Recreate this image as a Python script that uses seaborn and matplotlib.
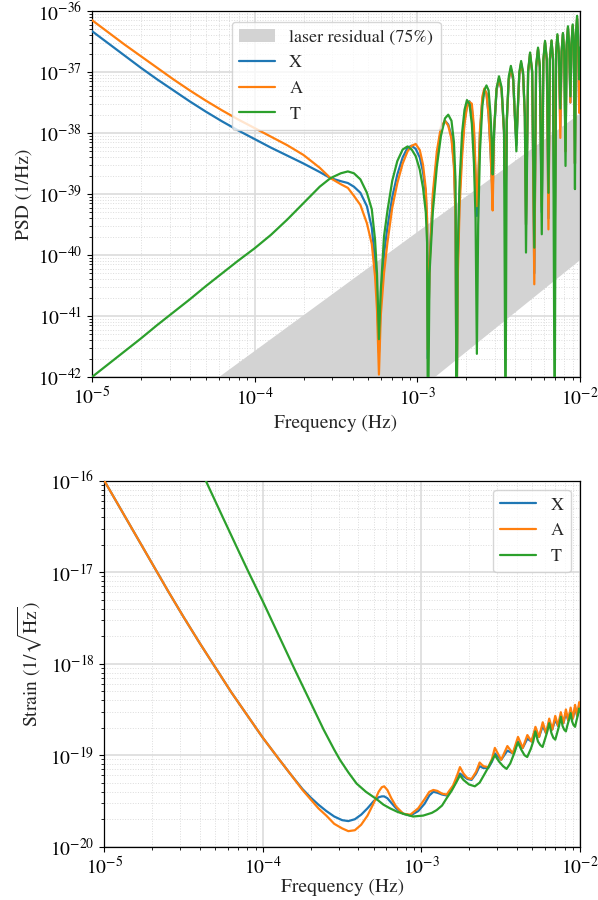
import numpy as np
import pandas as pd
import matplotlib
matplotlib.use("Agg")
import matplotlib.pyplot as plt
import seaborn as sns
from matplotlib.ticker import LogLocator, NullFormatter
from matplotlib.patches import Patch
from matplotlib.lines import Line2D

# ---------------- data (log10 units) ----------------
# Top panel: PSD (1/Hz) of X, A, T versus frequency
logf_top = [
    -5.0, -4.9, -4.8, -4.7, -4.6, -4.5, -4.4, -4.3, -4.2, -4.1, -4.0, -3.9, -3.8, -3.7, -3.6, -3.534,
    -3.47, -3.427, -3.39, -3.35, -3.31, -3.28, -3.26, -3.248, -3.236,
    -3.225, -3.205, -3.184, -3.154, -3.123, -3.09, -3.06, -3.035, -3.01, -2.985, -2.965, -2.948, -2.94, -2.935,
    -2.925, -2.905, -2.88, -2.855, -2.83, -2.81, -2.79, -2.775, -2.765, -2.759,
    -2.752, -2.74, -2.725, -2.71, -2.695, -2.68, -2.665, -2.652, -2.642, -2.634,
    -2.626, -2.615, -2.600, -2.588, -2.575, -2.562, -2.550, -2.543, -2.537,
    -2.528, -2.513, -2.498, -2.482, -2.467, -2.458,
    -2.450, -2.438, -2.425, -2.411, -2.399, -2.391,
    -2.384, -2.373, -2.362, -2.350, -2.339, -2.332,
    -2.319, -2.307, -2.294, -2.281,
    -2.270, -2.258, -2.247, -2.235,
    -2.225, -2.215, -2.204, -2.194,
    -2.185, -2.175, -2.166, -2.156,
    -2.147, -2.139, -2.130, -2.121,
    -2.113, -2.105, -2.097, -2.089,
    -2.082, -2.074, -2.067, -2.059,
    -2.052, -2.045, -2.038, -2.031,
    -2.025, -2.018, -2.012, -2.005, -2.000,
]
log_psd_X = [
    -36.33, -36.53, -36.73, -36.93, -37.12, -37.30, -37.48, -37.65, -37.81, -37.96, -38.10, -38.24, -38.37, -38.50, -38.64, -38.74,
    -38.79, -38.82, -38.88, -38.98, -39.20, -39.55, -40.10, -40.60, -41.60,
    -40.80, -39.99, -39.55, -39.05, -38.68, -38.40, -38.24, -38.21, -38.26, -38.40, -38.64, -39.00, -39.50, -41.70,
    -40.10, -39.10, -38.40, -37.95, -37.80, -37.86, -38.05, -38.50, -39.30, -43.00,
    -40.20, -39.00, -38.25, -37.80, -37.55, -37.48, -37.60, -38.00, -38.80, -39.36,
    -38.90, -38.00, -37.45, -37.30, -37.35, -37.70, -38.30, -38.70, -39.00,
    -38.00, -37.30, -37.12, -37.30, -38.00, -39.30,
    -37.82, -37.13, -36.95, -37.13, -37.82, -38.20,
    -37.73, -37.04, -36.86, -37.04, -37.73, -39.50,
    -37.01, -36.71, -37.01, -40.30,
    -36.93, -36.63, -36.93, -39.30,
    -36.82, -36.52, -36.82, -39.40,
    -36.80, -36.50, -36.80, -40.00,
    -36.71, -36.41, -36.71, -37.90,
    -36.68, -36.38, -36.68, -38.30,
    -36.58, -36.28, -36.58, -37.50,
    -36.55, -36.25, -36.55, -38.50,
    -36.43, -36.13, -36.43, -37.60, -36.80,
]
log_psd_A = [
    -36.15, -36.35, -36.55, -36.74, -36.93, -37.12, -37.30, -37.47, -37.63, -37.78, -37.92, -38.06, -38.20, -38.36, -38.57, -38.74,
    -38.84, -38.90, -39.03, -39.18, -39.48, -39.82, -40.35, -40.90, -41.96,
    -41.00, -40.30, -39.80, -39.22, -38.82, -38.50, -38.30, -38.21, -38.18, -38.28, -38.52, -38.92, -39.40, -41.55,
    -40.20, -39.00, -38.30, -37.90, -37.80, -37.88, -38.10, -38.55, -39.40, -43.00,
    -40.40, -39.20, -38.40, -37.85, -37.58, -37.49, -37.52, -37.90, -38.60, -39.20,
    -38.80, -37.95, -37.40, -37.27, -37.35, -37.70, -38.30, -38.80, -39.27,
    -37.95, -37.28, -37.11, -37.30, -38.00, -39.20,
    -37.81, -37.12, -36.94, -37.12, -37.81, -38.10,
    -37.72, -37.03, -36.85, -37.03, -37.72, -39.50,
    -37.00, -36.70, -37.00, -40.48,
    -36.92, -36.62, -36.92, -39.20,
    -36.81, -36.51, -36.81, -39.58,
    -36.79, -36.49, -36.79, -40.00,
    -36.70, -36.40, -36.70, -38.08,
    -36.67, -36.37, -36.67, -38.30,
    -36.57, -36.27, -36.57, -37.50,
    -36.54, -36.24, -36.54, -38.50,
    -36.42, -36.12, -36.42, -37.67, -36.80,
]
log_psd_T = [
    -42.00, -41.79, -41.58, -41.37, -41.15, -40.94, -40.73, -40.51, -40.30, -40.09, -39.89, -39.67, -39.42, -39.15, -38.88, -38.74,
    -38.66, -38.63, -38.66, -38.76, -38.98, -39.25, -39.75, -40.30, -41.38,
    -40.60, -39.70, -39.28, -38.78, -38.46, -38.27, -38.22, -38.27, -38.38, -38.60, -38.90, -39.30, -39.80, -43.00,
    -40.30, -39.30, -38.55, -38.05, -37.76, -37.70, -37.80, -38.15, -38.80, -43.00,
    -40.00, -38.80, -38.00, -37.62, -37.46, -37.52, -37.85, -38.50, -39.40, -41.62,
    -39.50, -38.30, -37.55, -37.30, -37.22, -37.30, -37.70, -38.10, -38.68,
    -37.95, -37.27, -37.07, -37.25, -37.95, -43.00,
    -37.77, -37.08, -36.90, -37.08, -37.77, -38.30,
    -37.69, -37.00, -36.82, -37.00, -37.69, -39.96,
    -36.98, -36.68, -36.98, -39.88,
    -36.90, -36.60, -36.90, -39.66,
    -36.79, -36.49, -36.79, -38.98,
    -36.78, -36.48, -36.78, -43.00,
    -36.68, -36.38, -36.68, -37.60,
    -36.66, -36.36, -36.66, -38.54,
    -36.55, -36.25, -36.55, -37.40,
    -36.52, -36.22, -36.52, -38.92,
    -36.38, -36.08, -36.38, -37.12, -36.60,
]
# laser residual band (75%)
band_logf = [-5.0, -4.0, -3.0, -2.0]
band_log_lo = [-46.52, -44.37, -42.22, -40.07]
band_log_hi = [-43.51, -41.56, -39.61, -37.67]

# Bottom panel: strain sensitivity
logf_bot_XA = [
    -5.0, -4.9, -4.8, -4.7, -4.6, -4.5, -4.4, -4.3, -4.2, -4.1, -4.0, -3.9, -3.829, -3.75, -3.7, -3.65, -3.6, -3.55, -3.5, -3.461,
    -3.42, -3.38, -3.34, -3.30, -3.27, -3.25, -3.235, -3.215, -3.19, -3.16, -3.115, -3.07, -3.02, -2.98,
    -2.95, -2.925, -2.90, -2.87, -2.841, -2.80, -2.775, -2.757, -2.735, -2.71, -2.684, -2.655, -2.633,
    -2.61, -2.578, -2.555, -2.537, -2.497, -2.458, -2.424, -2.391, -2.361, -2.332, -2.306, -2.281, -2.258,
    -2.235, -2.214, -2.194, -2.175, -2.156, -2.1385, -2.121, -2.105, -2.089, -2.074, -2.059, -2.045, -2.031,
    -2.018, -2.005, -2.0,
]
log_strain_X = [
    -16.0, -16.30, -16.60, -16.90, -17.20, -17.49, -17.77, -18.04, -18.31, -18.56, -18.81, -19.04, -19.20, -19.37, -19.46, -19.54, -19.61, -19.67, -19.71, -19.72,
    -19.70, -19.65, -19.58, -19.50, -19.46, -19.45, -19.45, -19.47, -19.52, -19.58, -19.64, -19.66, -19.61, -19.53,
    -19.44, -19.40, -19.41, -19.43, -19.44, -19.35, -19.26, -19.20, -19.23, -19.26, -19.27, -19.20, -19.12,
    -19.14, -19.14, -19.07, -18.98, -19.05, -18.95, -18.98, -18.85, -18.92, -18.82, -18.85, -18.73, -18.80,
    -18.68, -18.76, -18.64, -18.72, -18.61, -18.68, -18.57, -18.65, -18.54, -18.62, -18.51, -18.60, -18.48,
    -18.57, -18.45, -18.50,
]
log_strain_A = [
    -16.0, -16.30, -16.60, -16.90, -17.20, -17.49, -17.77, -18.04, -18.31, -18.56, -18.81, -19.04, -19.20, -19.38, -19.48, -19.58, -19.66, -19.75, -19.80, -19.83,
    -19.82, -19.76, -19.66, -19.52, -19.40, -19.35, -19.34, -19.38, -19.47, -19.56, -19.64, -19.65, -19.58, -19.48,
    -19.40, -19.38, -19.39, -19.42, -19.43, -19.33, -19.22, -19.13, -19.20, -19.25, -19.26, -19.18, -19.08,
    -19.12, -19.13, -19.04, -18.92, -19.05, -18.90, -18.98, -18.80, -18.92, -18.78, -18.85, -18.69, -18.80,
    -18.64, -18.76, -18.60, -18.72, -18.57, -18.68, -18.53, -18.65, -18.50, -18.62, -18.48, -18.60, -18.45,
    -18.57, -18.42, -18.50,
]
logf_bot_T = [
    -4.45, -4.36, -4.25, -4.15, -4.09, -4.0, -3.9, -3.8, -3.7, -3.617, -3.55, -3.514, -3.46, -3.409, -3.35,
    -3.283, -3.24, -3.199, -3.15, -3.115, -3.052, -2.989, -2.934, -2.904, -2.87, -2.841, -2.81, -2.778, -2.757,
    -2.735, -2.70, -2.663, -2.633, -2.60, -2.565, -2.537, -2.51, -2.485, -2.463, -2.44, -2.415, -2.392, -2.37,
    -2.35, -2.333, -2.31, -2.295, -2.282, -2.265, -2.25, -2.236, -2.22, -2.206, -2.194, -2.18, -2.168, -2.156,
    -2.143, -2.132, -2.121, -2.11, -2.10, -2.089, -2.079, -2.069, -2.059, -2.05, -2.041, -2.031, -2.022, -2.013,
    -2.005, -2.0,
]
log_strain_T = [
    -15.66, -16.0, -16.41, -16.78, -17.0, -17.32, -17.69, -18.06, -18.42, -18.72, -18.94, -19.05, -19.19, -19.31, -19.40,
    -19.48, -19.54, -19.58, -19.62, -19.64, -19.67, -19.66, -19.63, -19.60, -19.55, -19.47, -19.39, -19.29, -19.22,
    -19.27, -19.32, -19.34, -19.30, -19.20, -19.09, -19.00, -19.07, -19.12, -19.15, -19.09, -18.98, -18.86, -18.94,
    -19.00, -19.02, -18.93, -18.85, -18.74, -18.85, -18.89, -18.91, -18.82, -18.74, -18.65, -18.76, -18.81, -18.83,
    -18.75, -18.68, -18.58, -18.68, -18.72, -18.74, -18.67, -18.61, -18.54, -18.63, -18.67, -18.69, -18.62, -18.56,
    -18.49, -18.53,
]

series_names = ["X", "A", "T"]
series_colors = ["#1f77b4", "#ff7f0e", "#2ca02c"]
band_label = "laser residual (75%)"
band_color = "#d3d3d3"

# ---------------- style ----------------
sns.set_style("ticks")
plt.rcParams.update({
    "font.family": ["STIXGeneral", "DejaVu Sans"],
    "mathtext.fontset": "stix",
    "font.size": 14,
    "axes.linewidth": 0.9,
    "xtick.direction": "out",
    "ytick.direction": "out",
    "xtick.major.size": 3.5,
    "ytick.major.size": 3.5,
    "xtick.minor.size": 2.0,
    "ytick.minor.size": 2.0,
    "xtick.major.width": 0.8,
    "ytick.major.width": 0.8,
    "xtick.minor.width": 0.6,
    "ytick.minor.width": 0.6,
    "xtick.color": "black",
    "ytick.color": "black",
    "axes.edgecolor": "black",
})

p = lambda v: np.power(10.0, np.asarray(v, dtype=float))

top_df = pd.DataFrame({"f": p(logf_top), "X": p(log_psd_X), "A": p(log_psd_A), "T": p(log_psd_T)})
bot_xa = pd.DataFrame({"f": p(logf_bot_XA), "X": p(log_strain_X), "A": p(log_strain_A)})
bot_t = pd.DataFrame({"f": p(logf_bot_T), "T": p(log_strain_T)})

fig = plt.figure(figsize=(5.98, 9.0), dpi=100)
ax1 = fig.add_axes([92 / 598, 1 - 377 / 900, 488 / 598, 366 / 900])
ax2 = fig.add_axes([104.3 / 598, 1 - 846.7 / 900, 475.7 / 598, 366 / 900])

for ax in (ax1, ax2):
    ax.set_xscale("log")
    ax.set_yscale("log")

# top panel
ax1.fill_between(p(band_logf), p(band_log_lo), p(band_log_hi), color=band_color, lw=0, zorder=1)
for name, col in zip(series_names, series_colors):
    sns.lineplot(data=top_df, x="f", y=name, ax=ax1, color=col, lw=1.6,
                 estimator=None, sort=False, legend=False, zorder=3)
ax1.set_xlim(1e-5, 1e-2)
ax1.set_ylim(1e-42, 1e-36)
ax1.set_xlabel("Frequency (Hz)", fontsize=14)
ax1.set_ylabel("PSD (1/Hz)", fontsize=14)
handles = [Patch(facecolor=band_color, edgecolor="none")] + [Line2D([], [], color=c, lw=1.6) for c in series_colors]
ax1.legend(handles, [band_label] + series_names, loc="upper center", fontsize=13,
           framealpha=0.8, borderaxespad=0.6)

# bottom panel
sns.lineplot(data=bot_xa, x="f", y="X", ax=ax2, color=series_colors[0], lw=1.6, estimator=None, sort=False, legend=False, zorder=3)
sns.lineplot(data=bot_xa, x="f", y="A", ax=ax2, color=series_colors[1], lw=1.6, estimator=None, sort=False, legend=False, zorder=3)
sns.lineplot(data=bot_t, x="f", y="T", ax=ax2, color=series_colors[2], lw=1.6, estimator=None, sort=False, legend=False, zorder=3)
ax2.set_xlim(1e-5, 1e-2)
ax2.set_ylim(1e-20, 1e-16)
ax2.set_xlabel("Frequency (Hz)", fontsize=14, labelpad=0.0)
ax2.set_ylabel(r"Strain $(1/\sqrt{\mathrm{Hz}})$", fontsize=14)
handles2 = [Line2D([], [], color=c, lw=1.6) for c in series_colors]
ax2.legend(handles2, series_names, loc="upper right", fontsize=13, framealpha=0.8)

for ax in (ax1, ax2):
    ax.xaxis.set_major_locator(LogLocator(base=10, numticks=12))
    ax.yaxis.set_major_locator(LogLocator(base=10, numticks=12))
    ax.xaxis.set_minor_locator(LogLocator(base=10, subs=np.arange(2, 10), numticks=12))
    ax.yaxis.set_minor_locator(LogLocator(base=10, subs=np.arange(2, 10), numticks=12))
    ax.xaxis.set_minor_formatter(NullFormatter())
    ax.yaxis.set_minor_formatter(NullFormatter())
    ax.grid(True, which="major", color="#dcdcdc", lw=1.2, ls="-", zorder=0)
    ax.grid(True, which="minor", color="#dcdcdc", lw=0.7, ls=":", zorder=0)
    ax.set_axisbelow(True)
    ax.tick_params(labelsize=14)
    for s in ax.spines.values():
        s.set_visible(True)
        s.set_color("black")

fig.savefig("out.png", dpi=100)
